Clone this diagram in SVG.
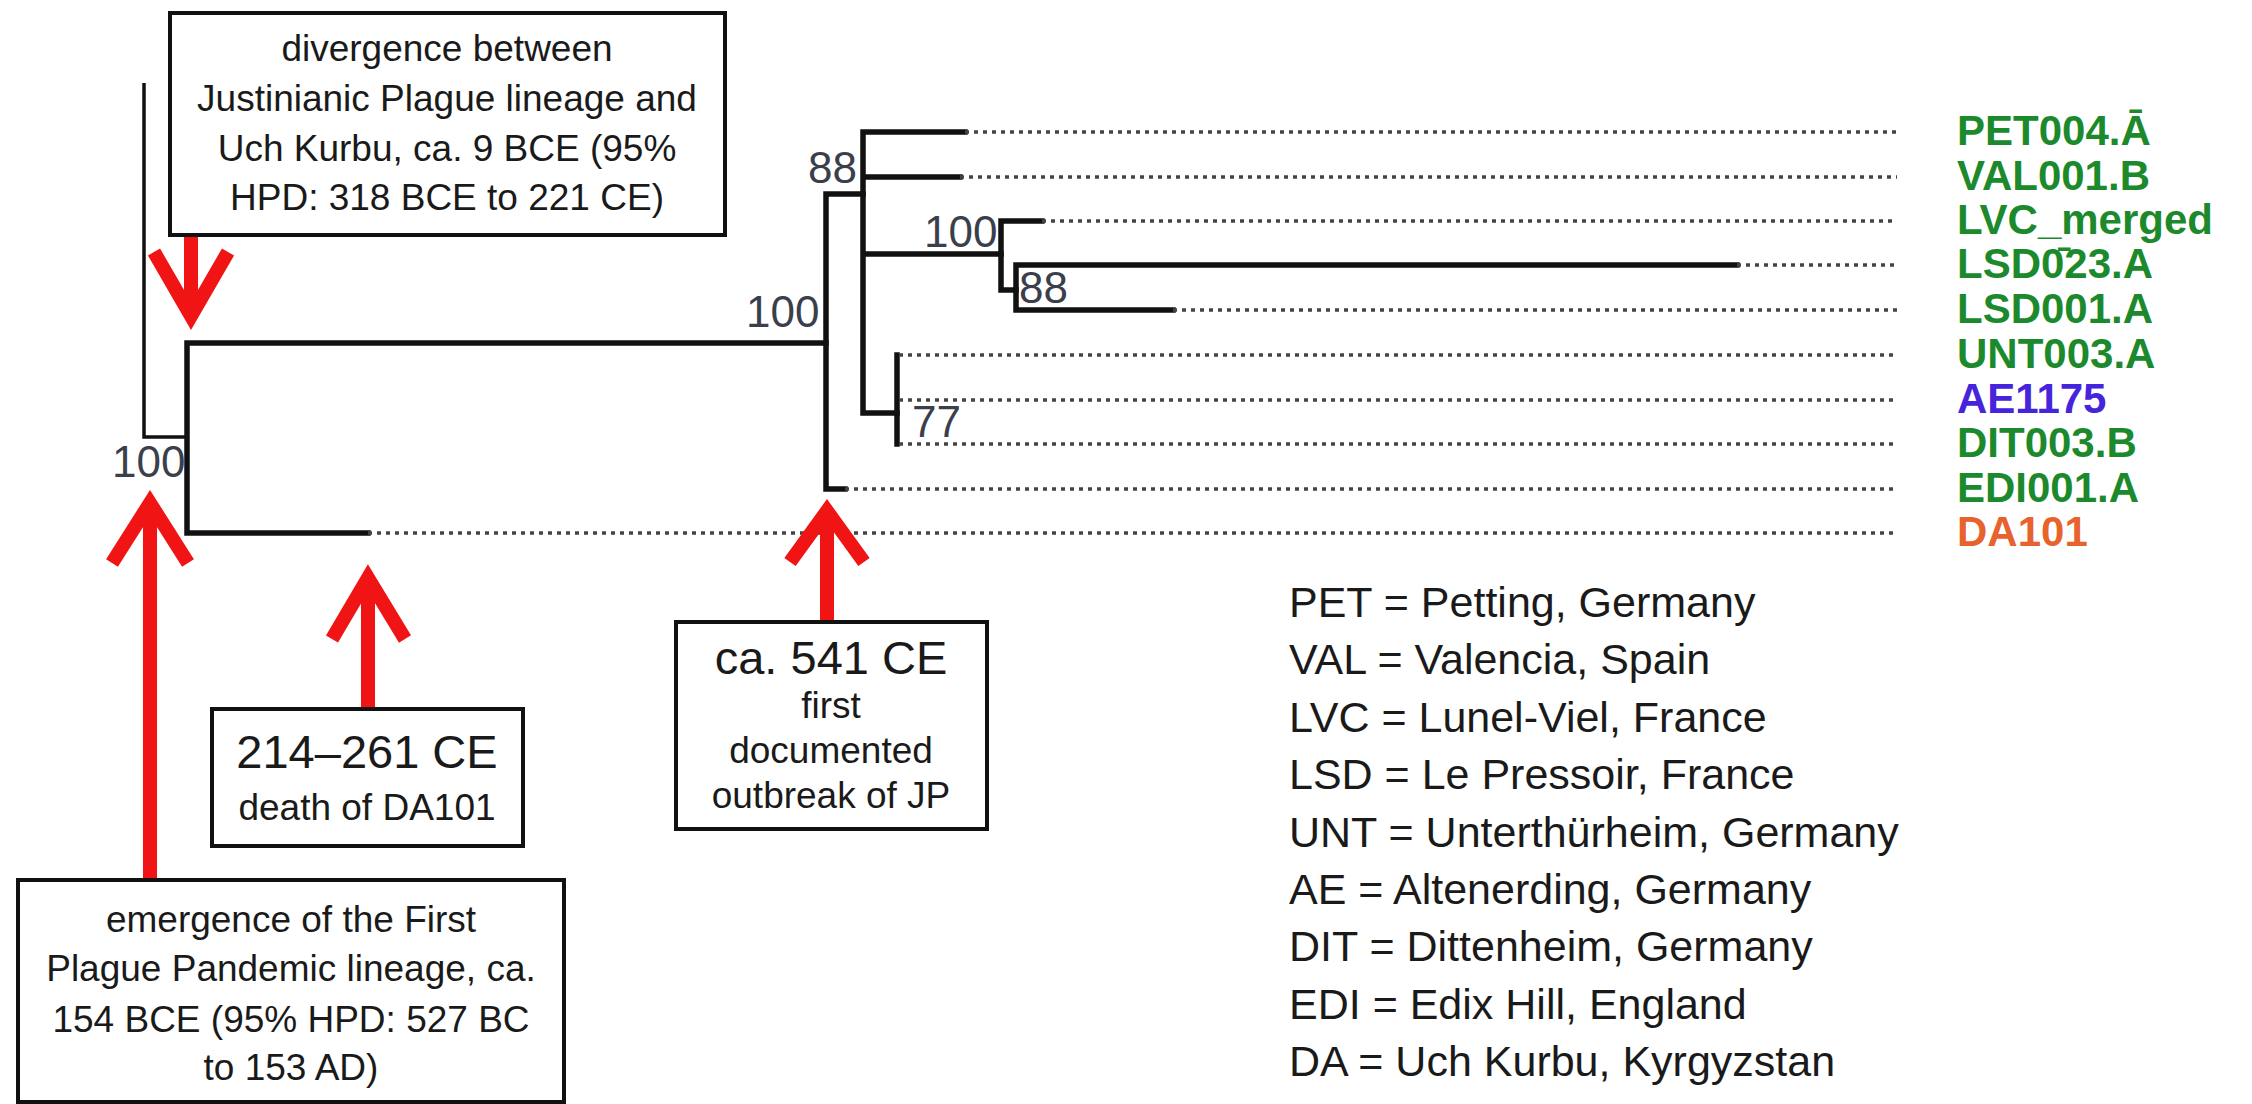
<svg xmlns="http://www.w3.org/2000/svg" width="2252" height="1104" viewBox="0 0 2252 1104">
<style>
.br{stroke:#111;stroke-width:5.5;fill:none;stroke-linecap:square}
.thin{stroke:#111;stroke-width:3.5;fill:none}
.dot{stroke:#444;stroke-width:3.5;fill:none;stroke-dasharray:4 5}
.box{fill:#fff;stroke:#111;stroke-width:4}
.arr{stroke:#f01414;stroke-width:14;fill:none;stroke-linejoin:miter;stroke-linecap:butt}
.sup{font-family:"Liberation Sans",Arial,sans-serif;font-size:44px;fill:#3b3f4c}
.tip{font-family:"Liberation Sans",Arial,sans-serif;font-size:42px;font-weight:bold}
.g{fill:#1c8a2c}
.bt{font-family:"Liberation Sans",Arial,sans-serif;font-size:37px;fill:#1a1a1a;text-anchor:middle}
.big{font-size:47px}
.leg{font-family:"Liberation Sans",Arial,sans-serif;font-size:43px;fill:#1a1a1a}
</style>
<rect width="2252" height="1104" fill="#fff"/>
<g id="connectors">
  <path class="thin" d="M144 83 V437 H187"/>
  <path class="br" d="M187 343 V533 M187 343 H826 M187 533 H368"/>
  <path class="br" d="M826 194 V489 M826 194 H863 M826 489 H845"/>
  <path class="br" d="M863 132 V413 M863 132 H965 M863 177 H960 M863 254 H1001 M863 413 H897"/>
  <path class="br" d="M1001 221 V290 M1001 221 H1042 M1001 290 H1016"/>
  <path class="br" d="M1016 265 V310 M1016 265 H1737 M1016 310 H1173"/>
  <path class="br" d="M897 355 V444"/>
  <path class="dot" d="M965 132 H1897 M960 177 H1897 M1042 221 H1897 M1737 265 H1897 M1173 310 H1897 M899 355 H1897 M899 400 H1897 M899 444 H1897 M845 489 H1897 M368 533 H1897"/>
  <path class="arr" d="M191 236 V318 M154 252 L191 316 L228 252"/>
  <path class="arr" d="M150 880 V504 M112 563 L150 503 L188 563"/>
  <path class="arr" d="M368 709 V578 M332 639 L368 578 L405 639"/>
  <path class="arr" d="M827 622 V511 M790 562 L827 511 L864 562"/>
</g>
<g id="support-labels">
  <text class="sup" x="112" y="477">100</text>
  <text class="sup" x="746" y="327">100</text>
  <text class="sup" x="808" y="183">88</text>
  <text class="sup" x="924" y="247">100</text>
  <text class="sup" x="1019" y="303">88</text>
  <text class="sup" x="912" y="437">77</text>
</g>
<g id="tip-labels">
  <text class="tip g" x="1957" y="145">PET004.Ā</text>
  <text class="tip g" x="1957" y="190">VAL001.B</text>
  <text class="tip g" x="1957" y="234">LVC_merged</text>
  <text class="tip g" x="1957" y="278">LSD0̄23.A</text>
  <text class="tip g" x="1957" y="323">LSD001.A</text>
  <text class="tip g" x="1957" y="368">UNT003.A</text>
  <text class="tip" x="1957" y="413" fill="#4624dc">AE1175</text>
  <text class="tip g" x="1957" y="457">DIT003.B</text>
  <text class="tip g" x="1957" y="502">EDI001.A</text>
  <text class="tip" x="1957" y="546" fill="#e8622e">DA101</text>
</g>
<g id="box-divergence">
  <rect class="box" x="170" y="13" width="555" height="222"/>
  <text class="bt" x="447" y="61">divergence between</text>
  <text class="bt" x="447" y="111">Justinianic Plague lineage and</text>
  <text class="bt" x="447" y="161">Uch Kurbu, ca. 9 BCE (95%</text>
  <text class="bt" x="447" y="210">HPD: 318 BCE to 221 CE)</text>
</g>
<g id="box-da101">
  <rect class="box" x="212" y="709" width="311" height="137"/>
  <text class="bt big" x="367" y="768">214–261 CE</text>
  <text class="bt" x="367" y="820">death of DA101</text>
</g>
<g id="box-jp">
  <rect class="box" x="676" y="622" width="311" height="207"/>
  <text class="bt big" x="831" y="674">ca. 541 CE</text>
  <text class="bt" x="831" y="718">first</text>
  <text class="bt" x="831" y="763">documented</text>
  <text class="bt" x="831" y="808">outbreak of JP</text>
</g>
<g id="box-emergence">
  <rect class="box" x="18" y="880" width="546" height="222"/>
  <text class="bt" x="291" y="932">emergence of the First</text>
  <text class="bt" x="291" y="981">Plague Pandemic lineage, ca.</text>
  <text class="bt" x="291" y="1032">154 BCE (95% HPD: 527 BC</text>
  <text class="bt" x="291" y="1080">to 153 AD)</text>
</g>
<g id="legend">
  <text class="leg" x="1289" y="617">PET = Petting, Germany</text>
  <text class="leg" x="1289" y="674">VAL = Valencia, Spain</text>
  <text class="leg" x="1289" y="732">LVC = Lunel-Viel, France</text>
  <text class="leg" x="1289" y="789">LSD = Le Pressoir, France</text>
  <text class="leg" x="1289" y="847">UNT = Unterthürheim, Germany</text>
  <text class="leg" x="1289" y="904">AE = Altenerding, Germany</text>
  <text class="leg" x="1289" y="961">DIT = Dittenheim, Germany</text>
  <text class="leg" x="1289" y="1019">EDI = Edix Hill, England</text>
  <text class="leg" x="1289" y="1076">DA = Uch Kurbu, Kyrgyzstan</text>
</g>
</svg>
